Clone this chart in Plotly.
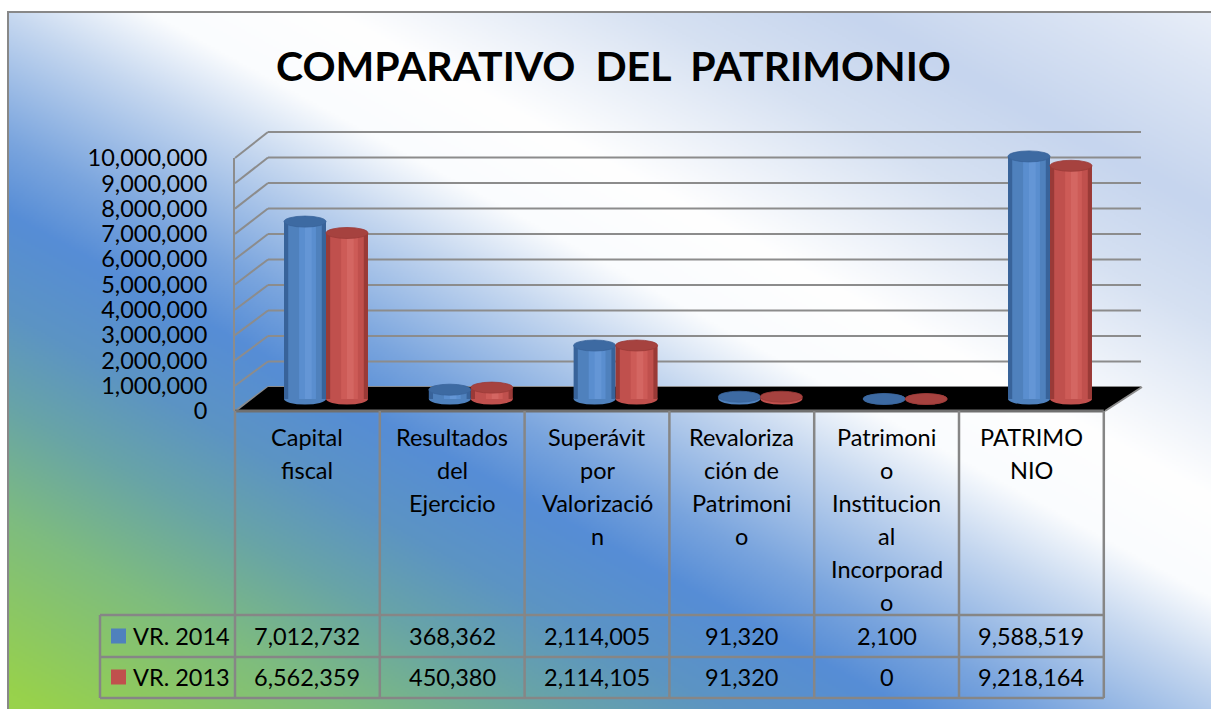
import base64
import struct
import zlib

import numpy as np
import plotly.graph_objects as go

# ---------------- data ----------------
categories = [
    "Capital fiscal",
    "Resultados del Ejercicio",
    "Superávit por Valorización",
    "Revalorización de Patrimonio",
    "Patrimonio Institucional Incorporado",
    "PATRIMONIO",
]
header_lines = [
    ["Capital", "fiscal"],
    ["Resultados", "del", "Ejercicio"],
    ["Superávit", "por", "Valorizació", "n"],
    ["Revaloriza", "ción de", "Patrimoni", "o"],
    ["Patrimoni", "o", "Institucion", "al", "Incorporad", "o"],
    ["PATRIMO", "NIO"],
]
series_names = ["VR. 2014", "VR. 2013"]
vr_2014 = [7012732, 368362, 2114005, 91320, 2100, 9588519]
vr_2013 = [6562359, 450380, 2114105, 91320, 0, 9218164]
y_ticks = [0, 1000000, 2000000, 3000000, 4000000, 5000000,
           6000000, 7000000, 8000000, 9000000, 10000000]
title_text = "COMPARATIVO  DEL  PATRIMONIO"

# ---------------- geometry helpers ----------------
W, H = 1211, 709


def fx(px):
    return px / W


def fy(py):
    return 1 - py / H


FONT = "Lato"
FS = 23.5
GRID = "#8c8c8c"
PPM = 25.3            # pixels per 1,000,000 at bar depth
ZERO_MID = 399        # pixel y of value 0 at bar depth
Y_TOP, Y_BOT = 132, 411

# ---------------- background gradient image ----------------
def make_png(arr):
    h, w, _ = arr.shape
    raw = b"".join(b"\x00" + arr[i].tobytes() for i in range(h))

    def chunk(tag, data):
        c = struct.pack(">I", len(data)) + tag + data
        return c + struct.pack(">I", zlib.crc32(tag + data) & 0xFFFFFFFF)

    return (b"\x89PNG\r\n\x1a\n"
            + chunk(b"IHDR", struct.pack(">IIBBBBB", w, h, 8, 2, 0, 0, 0))
            + chunk(b"IDAT", zlib.compress(raw, 9))
            + chunk(b"IEND", b""))


bx0, by0 = 8, 12
bw, bh = W - bx0 + 2, H - by0 + 2
S = 2
gw, gh = bw // S, bh // S
jj, ii = np.meshgrid(np.arange(gw), np.arange(gh))
PX = bx0 + (jj + 0.5) * S
PY = by0 + (ii + 0.5) * S
P = -0.482 * PX + 0.876 * PY
stops = [
    (-650, (250, 251, 254)),
    (-520, (221, 230, 245)),
    (-400, (198, 213, 238)),
    (-300, (214, 225, 242)),
    (-150, (255, 255, 255)),
    (-60, (250, 252, 254)),
    (10, (198, 216, 240)),
    (120, (122, 165, 222)),
    (185, (86, 141, 214)),
    (270, (92, 148, 196)),
    (350, (104, 164, 168)),
    (450, (126, 188, 128)),
    (600, (152, 210, 76)),
]
sp = [s[0] for s in stops]
img = np.zeros((gh, gw, 3), dtype=np.uint8)
for c in range(3):
    img[..., c] = np.clip(np.interp(P, sp, [s[1][c] for s in stops]), 0, 255).astype(np.uint8)
bg_uri = "data:image/png;base64," + base64.b64encode(make_png(img)).decode()

# ---------------- figure ----------------
fig = go.Figure()

BW = 0.29  # width of one cylinder in category units
series = [
    (series_names[0], vr_2014, -BW, ("#38639a", "#4f81bd", "#5a8ecf", "#6496d6"), "#3d6aa2"),
    (series_names[1], vr_2013, 0.0, ("#9a3a37", "#c0504d", "#cd5b57", "#d46662"), "#a6423f"),
]
layers = [(0.0, 1.0), (0.10, 0.80), (0.36, 0.40), (0.50, 0.16)]

for k, (name, vals, base, cols, capcol) in enumerate(series):
    for li, (o, wfrac) in enumerate(layers):
        fig.add_trace(go.Bar(
            x=categories, y=vals, name=name,
            offset=base + o * BW, width=wfrac * BW,
            marker=dict(color=cols[li], line=dict(width=0)),
            showlegend=False, legendgroup=name,
            hoverinfo="skip" if li != 1 else None,
            xaxis="x", yaxis="y",
        ))

# dummy trace to carry the front value axis
fig.add_trace(go.Scatter(x=[0.5], y=[0], mode="markers", marker=dict(opacity=0),
                         hoverinfo="skip", showlegend=False, xaxis="x2", yaxis="y2"))

shapes = []
# back wall gridlines and left-side diagonals
for k, t in enumerate(y_ticks):
    frac = t / y_ticks[-1]
    yb = 387 - 255 * frac
    yfr = 411 - 253 * frac
    shapes.append(dict(type="line", xref="paper", yref="paper", layer="below",
                       x0=fx(268), x1=fx(1141), y0=fy(yb), y1=fy(yb),
                       line=dict(color=GRID, width=2)))
    shapes.append(dict(type="line", xref="paper", yref="paper", layer="below",
                       x0=fx(235), x1=fx(268), y0=fy(yfr), y1=fy(yb),
                       line=dict(color=GRID, width=2)))
# floor
shapes.append(dict(type="path", xref="paper", yref="paper", layer="below",
                   path="M %f,%f L %f,%f L %f,%f L %f,%f Z" % (
                       fx(237), fy(411), fx(1105), fy(411), fx(1142), fy(387), fx(268), fy(387)),
                   fillcolor="black", line=dict(width=0)))
shapes.append(dict(type="line", xref="paper", yref="paper", layer="below",
                   x0=fx(1105), x1=fx(1142), y0=fy(411), y1=fy(387),
                   line=dict(color=GRID, width=2)))

# cylinder bottoms and caps (data coordinates)
CAP = 5.5 / PPM * 1e6
for name, vals, base, cols, capcol in series:
    for i, v in enumerate(vals):
        shapes.append(dict(type="circle", xref="x", yref="y", layer="below",
                           x0=i + base, x1=i + base + BW, y0=-CAP, y1=CAP,
                           fillcolor=cols[1], line=dict(width=0)))
        shapes.append(dict(type="circle", xref="x", yref="y", layer="above",
                           x0=i + base, x1=i + base + BW, y0=v - CAP, y1=v + CAP,
                           fillcolor=capcol, line=dict(color=cols[0], width=0.8)))

# data table grid
col_w = 144.8
col_edges = [235 + col_w * k for k in range(len(categories) + 1)]
TLINE = "#868686"
shapes.append(dict(type="line", xref="paper", yref="paper", x0=fx(235), x1=fx(col_edges[-1]),
                   y0=fy(411), y1=fy(411), line=dict(color="#707070", width=3)))
for yy in (615, 657, 698):
    shapes.append(dict(type="line", xref="paper", yref="paper", x0=fx(100), x1=fx(col_edges[-1]),
                       y0=fy(yy), y1=fy(yy), line=dict(color=TLINE, width=2.5)))
for xe in col_edges:
    shapes.append(dict(type="line", xref="paper", yref="paper", x0=fx(xe), x1=fx(xe),
                       y0=fy(411), y1=fy(698), line=dict(color=TLINE, width=2.5)))
shapes.append(dict(type="line", xref="paper", yref="paper", x0=fx(100), x1=fx(100),
                   y0=fy(615), y1=fy(698), line=dict(color=TLINE, width=2.5)))
# outer chart border
shapes.append(dict(type="rect", xref="paper", yref="paper", x0=fx(8), x1=fx(1214),
                   y0=fy(712), y1=fy(12), line=dict(color="#888888", width=2)))

annotations = [dict(text="<b>%s</b>" % title_text, xref="paper", yref="paper",
                    x=fx(613), y=fy(66), showarrow=False, xanchor="center", yanchor="middle",
                    font=dict(family=FONT, size=41, color="black"))]
for c, lines in enumerate(header_lines):
    cx = (col_edges[c] + col_edges[c + 1]) / 2
    for j, ln in enumerate(lines):
        annotations.append(dict(text=ln, xref="paper", yref="paper", x=fx(cx), y=fy(437 + 33 * j),
                                showarrow=False, xanchor="center", yanchor="middle",
                                font=dict(family=FONT, size=FS, color="black")))
    for r, vals in enumerate((vr_2014, vr_2013)):
        annotations.append(dict(text=f"{vals[c]:,}", xref="paper", yref="paper",
                                x=fx(cx), y=fy(636 + 41 * r), showarrow=False,
                                xanchor="center", yanchor="middle",
                                font=dict(family=FONT, size=FS, color="black")))

# legend keys inside the data table
for r, (name, vals, base, cols, capcol) in enumerate(series):
    yc = 636 + 41 * r
    shapes.append(dict(type="rect", xref="paper", yref="paper",
                       x0=fx(111), x1=fx(126), y0=fy(yc + 7.5), y1=fy(yc - 7.5),
                       fillcolor=cols[1], line=dict(width=0)))
    annotations.append(dict(text=name, xref="paper", yref="paper", x=fx(131), y=fy(yc),
                            showarrow=False, xanchor="left", yanchor="middle",
                            font=dict(family=FONT, size=FS, color="black")))

fig.update_layout(
    width=W, height=H,
    margin=dict(l=0, r=0, t=0, b=0, autoexpand=False),
    paper_bgcolor="white", plot_bgcolor="rgba(0,0,0,0)",
    barmode="overlay",
    showlegend=False,
    xaxis=dict(domain=[fx(253.6), fx(1122.4)], range=[-0.5, 5.5], visible=False,
               fixedrange=True, anchor="y"),
    yaxis=dict(domain=[fy(Y_BOT), fy(Y_TOP)],
               range=[-(Y_BOT - ZERO_MID) / PPM * 1e6, (ZERO_MID - Y_TOP) / PPM * 1e6],
               visible=False, fixedrange=True, anchor="x"),
    xaxis2=dict(domain=[fx(235), fx(1105)], range=[0, 1], visible=False, anchor="y2",
                fixedrange=True),
    yaxis2=dict(domain=[fy(411), fy(158)], range=[0, y_ticks[-1]], anchor="x2",
                tickvals=y_ticks, tickformat=",d", showgrid=False, zeroline=False,
                showline=True, linecolor=GRID, linewidth=2, automargin=False,
                ticks="outside", ticklen=21, tickcolor="rgba(0,0,0,0)",
                tickfont=dict(family=FONT, size=FS, color="black"), fixedrange=True),
    images=[dict(source=bg_uri, xref="paper", yref="paper", x=fx(bx0), y=fy(by0),
                 sizex=bw / W, sizey=bh / H, xanchor="left", yanchor="top",
                 sizing="stretch", layer="below")],
    shapes=shapes,
    annotations=annotations,
)

fig.write_html("out.html", config={"displayModeBar": False},
               post_script="document.body.style.margin='0';document.body.style.overflow='hidden';")
